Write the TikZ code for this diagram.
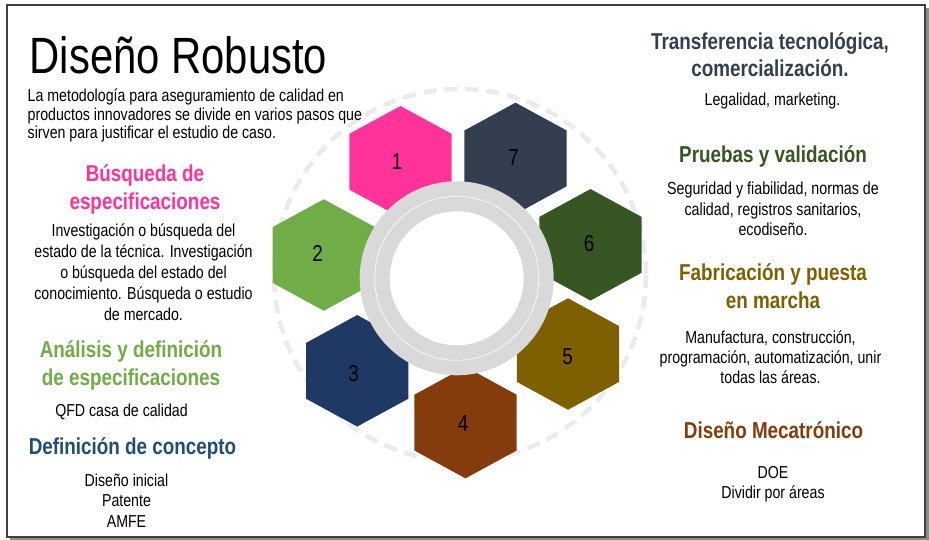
\documentclass[tikz,border=0pt]{standalone}
\usepackage{fontspec}
\setmainfont{Liberation Sans}[FakeStretch=0.82]

\definecolor{stepone}{HTML}{FF3399}
\definecolor{steptwo}{HTML}{70AD47}
\definecolor{stepthree}{HTML}{203864}
\definecolor{stepfour}{HTML}{843C0C}
\definecolor{stepfive}{HTML}{7F6000}
\definecolor{stepsix}{HTML}{375623}
\definecolor{stepseven}{HTML}{333F50}
\definecolor{conceptblue}{HTML}{1F4E79}
\definecolor{ringgrey}{HTML}{D9D9D9}
\definecolor{dashgrey}{HTML}{EBEBEB}
\definecolor{framegrey}{HTML}{404040}
\definecolor{shadowgrey}{HTML}{8C8C8C}

\begin{document}
\begin{tikzpicture}[x=1pt, y=-1pt,
    heading/.style={font=\fontsize{23}{28}\selectfont\bfseries, align=center, anchor=base, inner sep=0pt},
    bodytext/.style={font=\fontsize{17.3}{20.5}\selectfont, align=center, anchor=base, inner sep=0pt},
    stepnum/.style={font=\fontsize{23}{23}\selectfont, inner sep=0pt}]
      \useasboundingbox (0,0) rectangle (929,540);

      % Frame
      \fill[shadowgrey] (10,8) rectangle (928.5,540);
      \draw[fill=white, draw=framegrey, line width=1.3pt] (7,5) rectangle (925,537);

      % Dashed orbit
      \draw[dashgrey, line width=4.5pt, dash pattern=on 13pt off 8pt] (460,275) circle (186);

      % Hexagons
      \foreach \cx/\cy/\col in {400.5/161.75/stepone, 323.8/255/steptwo, 357.2/370.8/stepthree,
          465.5/422.6/stepfour, 568/354/stepfive, 590.5/244.8/stepsix, 515.5/158.4/stepseven} {
        \fill[\col] (\cx,\cy-55.75) -- (\cx+51.15,\cy-27.9) -- (\cx+51.15,\cy+27.9) -- (\cx,\cy+55.75)
          -- (\cx-51.15,\cy+27.9) -- (\cx-51.15,\cy-27.9) -- cycle;
      }

      % Centre ring
      \fill[ringgrey, even odd rule] (456.7,278.3) circle (97) circle (67);
      \draw[white, line width=0.6pt] (456.7,278.3) circle (82);

      % Step numbers
      \foreach \nx/\ny/\num in {397/162/1, 317.5/253.5/2, 353.5/373.5/3, 463/423.5/4,
          567.5/357/5, 589/243.5/6, 513.5/157.5/7} {
        \node[stepnum] (num\num) at (\nx,\ny) {\num};
      }

      % Title and introduction (multi-line nodes sit on their last baseline)
      \node[anchor=base west, inner sep=0pt, font=\fontsize{51}{51}\selectfont] (title) at (29.5,74) {Diseño Robusto};
      \node[anchor=base west, inner sep=0pt, align=left, font=\fontsize{17.3}{18.4}\selectfont] (intro) at (27.5,138.8)
        {La metodología para aseguramiento de calidad en\\productos innovadores se divide en varios pasos que\\sirven para justificar el estudio de caso.};

      % Left column
      \node[heading, text=stepone] (headone) at (145,210) {Búsqueda de\\especificaciones};
      \node[bodytext, font=\fontsize{17.3}{21}\selectfont] (bodyone) at (143.5,320)
        {Investigación o búsqueda del\\estado de la técnica. Investigación\\o búsqueda del estado del\\conocimiento. Búsqueda o estudio\\de mercado.};
      \node[heading, text=steptwo] (headtwo) at (131,385) {Análisis y definición\\de especificaciones};
      \node[bodytext] (bodytwo) at (121.5,416) {QFD casa de calidad};
      \node[heading, text=conceptblue] (headthree) at (132.5,454) {Definición de concepto};
      \node[bodytext] (bodythree) at (126.5,527) {Diseño inicial\\Patente\\AMFE};

      % Right column
      \node[heading, text=stepseven, font=\fontsize{23}{27}\selectfont\bfseries] (headseven) at (770,77) {Transferencia tecnológica,\\comercialización.};
      \node[bodytext] (bodyseven) at (772.5,106) {Legalidad, marketing.};
      \node[heading, text=stepsix] (headsix) at (773,163) {Pruebas y validación};
      \node[bodytext, font=\fontsize{17.4}{20.5}\selectfont] (bodysix) at (773,236)
        {Seguridad y fiabilidad, normas de\\calidad, registros sanitarios,\\ecodiseño.};
      \node[heading, text=stepfive] (headfive) at (773,308) {Fabricación y puesta\\en marcha};
      \node[bodytext, font=\fontsize{17.3}{20}\selectfont] (bodyfive) at (770.5,383)
        {Manufactura, construcción,\\programación, automatización, unir\\todas las áreas.};
      \node[heading, text=stepfour] (headfour) at (773.5,438) {Diseño Mecatrónico};
      \node[bodytext, font=\fontsize{17.3}{20}\selectfont] (bodyfour) at (773,498) {DOE\\Dividir por áreas};
    \end{tikzpicture}
\end{document}
